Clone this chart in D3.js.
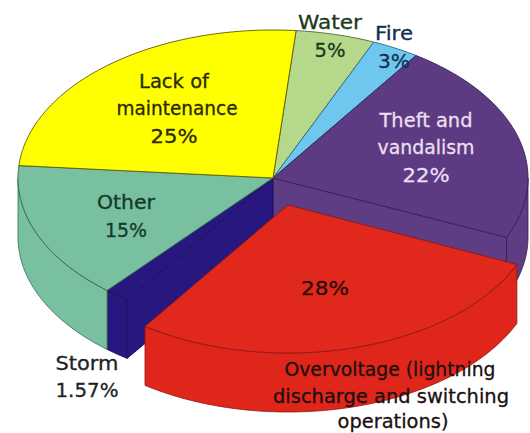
<!DOCTYPE html>
<html>
<head>
<meta charset="utf-8">
<script src="https://cdn.jsdelivr.net/npm/d3@7"></script>
<style>
  html, body { margin: 0; padding: 0; background: #fff; overflow: hidden; }
  text { font-family: "DejaVu Sans", sans-serif; font-size: 19.5px; text-anchor: middle; stroke-width: 0.3px; }
</style>
</head>
<body>
<svg id="chart" width="530" height="433"></svg>
<script>
const categories = ['Water', 'Fire', 'Theft and vandalism', 'Overvoltage', 'Storm', 'Other', 'Lack of maintenance'];
const values = [5, 3, 22, 28, 1.57, 15, 25];
const topColors = ['#b6d88a', '#6fc7ef', '#5d3b82', '#e1281c', '#27177f', '#78c0a0', '#ffff00'];
const wallColors = ['#a5c87c', '#62b6de', '#5e3d84', '#e0261b', '#27177f', '#78c0a0', '#e8dc00'];
const edgeColors = ['#4c6b33', '#2c6a8c', '#33204f', '#8a1a14', '#1a1058', '#2f6b52', '#5f5a00'];
const labelLines = [
  ['Water', '5%'], ['Fire', '3%'], ['Theft and', 'vandalism', '22%'],
  ['28%'], ['Storm', '1.57%'], ['Other', '15%'], ['Lack of', 'maintenance', '25%'],
  ['Overvoltage (lightning', 'discharge and switching', 'operations)']
];

const svg = d3.select('#chart');
const cx = 273, cy = 178, rx = 255, ry = 148, depth = 59;
const explode = [15, 27];

const x = d3.scaleLinear().domain([-1, 1]).range([cx - rx, cx + rx]);
const y = d3.scaleLinear().domain([-1, 1]).range([cy - ry, cy + ry]);
const rad = Math.PI / 180;

const slices = d3.pie().sort(null)
  .startAngle(5.2 * rad).endAngle(365.2 * rad)(values);

const line = d3.line();
const noOff = { dx: 0, dy: 0, k: 1 };
const redOff = { dx: explode[0], dy: explode[1], k: 0.98 };
const rim = (a, drop, off) => [
  x(Math.sin(a) * off.k) + off.dx,
  y(-Math.cos(a)) + drop + off.dy
];
const arcPts = (a0, a1, drop, off) => {
  const n = Math.max(2, Math.ceil((a1 - a0) / rad));
  return d3.range(n + 1).map(i => rim(a0 + (a1 - a0) * i / n, drop, off));
};

const g = svg.append('g');
const centre = [x(0), y(0)];

function cutWall(a, i) {
  const p = rim(a, 0, noOff);
  g.append('path')
    .attr('d', line([centre, p, [p[0], p[1] + depth], [centre[0], centre[1] + depth]]) + 'Z')
    .attr('fill', wallColors[i]).attr('stroke', edgeColors[i]).attr('stroke-width', 0.8);
}
function outerWall(s, i, off) {
  const a0 = Math.max(s.startAngle, 90 * rad), a1 = Math.min(s.endAngle, 270 * rad);
  if (a1 <= a0) return;
  const pts = arcPts(a0, a1, 0, off).concat(arcPts(a0, a1, depth, off).reverse());
  g.append('path').attr('d', line(pts) + 'Z')
    .attr('fill', wallColors[i]).attr('stroke', edgeColors[i]).attr('stroke-width', 0.8);
}
function topFace(s, i, off) {
  const pts = [[centre[0] + off.dx, centre[1] + off.dy]].concat(arcPts(s.startAngle, s.endAngle, 0, off));
  g.append('path').attr('d', line(pts) + 'Z')
    .attr('fill', topColors[i]).attr('stroke', edgeColors[i]).attr('stroke-width', 0.9);
}

// faces left open by the pulled out slice
cutWall(slices[2].endAngle, 2);
cutWall(slices[4].startAngle, 4);

slices.forEach((s, i) => { if (i !== 3) outerWall(s, i, noOff); });
slices.forEach((s, i) => { if (i !== 3) topFace(s, i, noOff); });

// exploded slice
outerWall(slices[3], 3, redOff);
topFace(slices[3], 3, redOff);

// labels, one entry per line: centre x, baseline y, width
const labelAt = [
  [[330, 29, 64], [330, 57, 31]],
  [[394, 40, 38], [394, 68, 32]],
  [[426, 127, 93], [426, 154, 97], [426, 182, 47]],
  [[325, 295, 48]],
  [[87, 370, 63], [87, 397, 63]],
  [[126, 209, 58], [126, 237, 42]],
  [[174, 88, 70], [177, 115, 121], [174, 143, 47]],
  [[390, 376, 211], [391, 403, 236], [393, 428, 111]]
];
const labelFill = ['#1c3a1a', '#12304f', '#eadff0', '#2a0d0a', '#222222', '#123a2a', '#2a2a00', '#1c1010'];
const labels = svg.append('g');
labelLines.forEach((lines, i) => {
  lines.forEach((t, j) => {
    labels.append('text')
      .attr('x', labelAt[i][j][0]).attr('y', labelAt[i][j][1])
      .attr('textLength', labelAt[i][j][2]).attr('lengthAdjust', 'spacingAndGlyphs')
      .attr('fill', labelFill[i]).attr('stroke', labelFill[i]).text(t);
  });
});
</script>
</body>
</html>
